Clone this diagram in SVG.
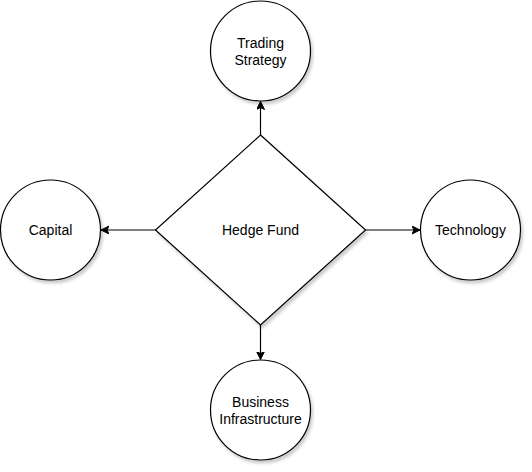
<svg xmlns="http://www.w3.org/2000/svg" width="532" height="472" viewBox="0 0 532 472">
<style>
.shape{fill:#ffffff;stroke:#000000;stroke-width:1.2;filter:url(#sh)}
.lbl{font-family:"Liberation Sans",Arial,Helvetica,sans-serif;font-size:14px;fill:#000000;text-anchor:middle}
.conn{fill:none;stroke:#000000;stroke-width:1.2}
</style>
<defs>
<filter id="sh" x="-20%" y="-20%" width="140%" height="140%">
<feDropShadow dx="2" dy="3" stdDeviation="1.5" flood-color="#000000" flood-opacity="0.2"/>
</filter>
<marker id="arr" markerWidth="10" markerHeight="10" refX="8" refY="4" orient="auto" markerUnits="userSpaceOnUse">
<path d="M0,0 L8,4 L0,8 L2,4 Z" fill="#000000" stroke="#000000" stroke-width="1"/>
</marker>
</defs>
<g id="connectors">
<path class="conn" d="M260.5,135 L260.5,101.5" marker-end="url(#arr)"/>
<path class="conn" d="M155.5,230 L101,230" marker-end="url(#arr)"/>
<path class="conn" d="M365.5,230 L420,230" marker-end="url(#arr)"/>
<path class="conn" d="M260.5,325 L260.5,359.5" marker-end="url(#arr)"/>
</g>
<g id="hedge-fund">
<polygon class="shape" points="260.5,135 365.5,230 260.5,325 155.5,230"/>
<text class="lbl" x="260.5" y="235">Hedge Fund</text>
</g>
<g id="trading-strategy">
<circle class="shape" cx="260.5" cy="51" r="50"/>
<text class="lbl" x="260.5" y="47.5">Trading</text>
<text class="lbl" x="260.5" y="64.5">Strategy</text>
</g>
<g id="capital">
<circle class="shape" cx="50.5" cy="230" r="50"/>
<text class="lbl" x="50.5" y="235">Capital</text>
</g>
<g id="technology">
<circle class="shape" cx="470.5" cy="230" r="50"/>
<text class="lbl" x="470.5" y="235">Technology</text>
</g>
<g id="business-infrastructure">
<circle class="shape" cx="260.5" cy="410" r="50"/>
<text class="lbl" x="260.5" y="406.5">Business</text>
<text class="lbl" x="260.5" y="423.5">Infrastructure</text>
</g>
</svg>
